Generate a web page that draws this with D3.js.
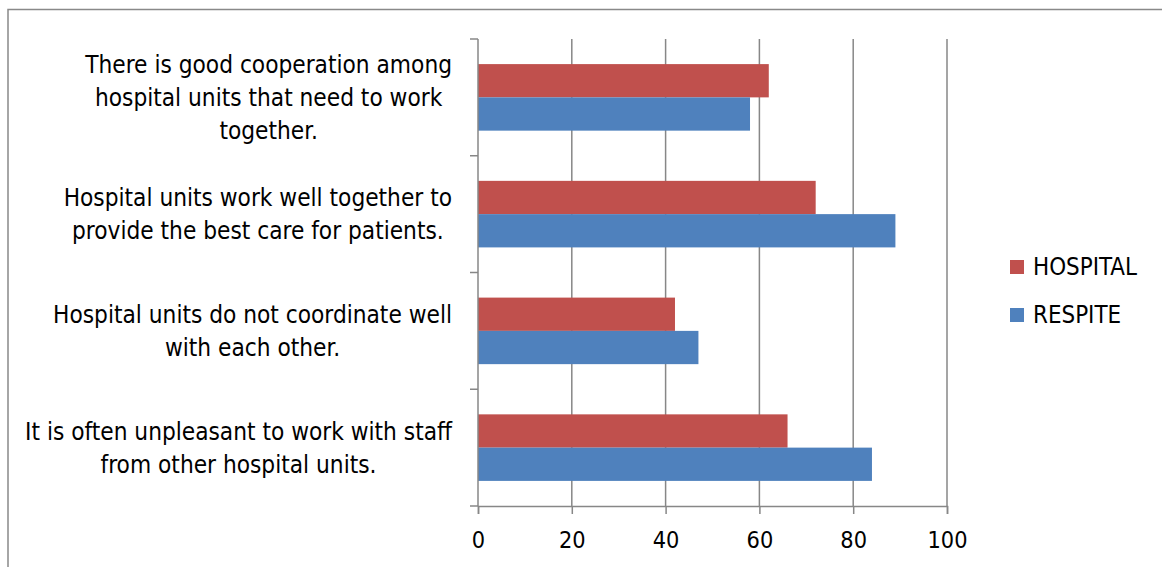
<!DOCTYPE html>
<html><head><meta charset="utf-8">
<script src="https://cdn.jsdelivr.net/npm/d3@7"></script>
<style>html,body{margin:0;padding:0;background:#fff;}</style>
</head><body>
<svg id="c" width="1162" height="567"></svg>
<script>
const categories = [
  ["There is good cooperation among", "hospital units that need to work", "together."],
  ["Hospital units work well together to", "provide the best care for patients."],
  ["Hospital units do not coordinate well", "with each other."],
  ["It is often unpleasant to work with staff", "from other hospital units."]
];
const seriesNames = ["HOSPITAL", "RESPITE"];
const hospital = [62, 72, 42, 66];
const respite = [58, 89, 47, 84];
const xTicks = [0, 20, 40, 60, 80, 100];
const colors = ["#C0504D", "#4F81BD"];

(function(){
const FONT = "'Liberation Sans Narrow', 'DejaVu Sans Condensed', sans-serif";
const svg = d3.select("#c");
const pL = 478, pR = 947, pT = 39, pB = 506;

function fit(str, target){
  const p = svg.append("text").attr("font-family",FONT).attr("font-size",20).text(str);
  const s = 20 * target / p.node().getComputedTextLength();
  p.remove();
  return Math.round(s*10)/10;
}
const FS = fit("It is often unpleasant to work with staff", 428);
const LFS = fit("HOSPITAL", 104);
const TFS = fit("100", 40);

// frame
svg.append("path").attr("d", `M8,570 L8,9.5 L1170,9.5`).attr("fill","none")
  .attr("stroke","#898989").attr("stroke-width",1.5);

const x = d3.scaleLinear().domain([0,100]).range([pL,pR]);
const idx = categories.map((d,i)=>i);
const y0 = d3.scaleBand().domain(idx).range([pT,pB]).paddingInner(0.43).paddingOuter(0.215);
const y1 = d3.scaleBand().domain([0,1]).range([0, y0.bandwidth()]);

// gridlines
svg.append("g").selectAll("line").data(xTicks.filter(t=>t>0)).join("line")
  .attr("x1",d=>x(d)).attr("x2",d=>x(d)).attr("y1",pT).attr("y2",pB)
  .attr("stroke","#878787").attr("stroke-width",1.5);

// bars
const series = [hospital, respite];
const g = svg.append("g");
series.forEach((vals,si)=>{
  g.selectAll(null).data(vals).join("rect")
    .attr("x",x(0)).attr("y",(d,i)=>y0(i)+y1(si))
    .attr("width",d=>x(d)-x(0)).attr("height",y1.bandwidth())
    .attr("fill",colors[si]);
});

// y axis
const step = (pB-pT)/categories.length;
const yt = d3.range(categories.length+1).map(i=>pT+i*step);
svg.append("line").attr("x1",pL).attr("x2",pL).attr("y1",pT).attr("y2",pB)
  .attr("stroke","#878787").attr("stroke-width",1.5);
svg.append("g").selectAll("line").data(yt).join("line")
  .attr("x1",470).attr("x2",pL).attr("y1",d=>d).attr("y2",d=>d)
  .attr("stroke","#878787").attr("stroke-width",1.5);

// x axis
const xa = svg.append("g").attr("transform",`translate(0,${pB})`)
  .call(d3.axisBottom(x).tickValues(xTicks).tickSize(8).tickPadding(0).tickFormat(d3.format("d")));
xa.select(".domain").attr("stroke","#878787").attr("stroke-width",1.5);
xa.selectAll(".tick line").attr("stroke","#878787").attr("stroke-width",1.5);
xa.selectAll(".tick text").attr("y",34).attr("dy","0.35em")
  .attr("font-family",FONT).attr("font-size",TFS).attr("fill","#000");

// category labels
const labelRight = 452, lh = 33;
categories.forEach((lines,i)=>{
  const cy = pT + (i+0.5)*step;
  const t = svg.append("text").attr("font-family",FONT).attr("font-size",FS)
    .attr("fill","#000").attr("text-anchor","middle");
  const n = lines.length;
  lines.forEach((ln,j)=>{
    t.append("tspan").attr("x",0).attr("y",cy + (j-(n-1)/2)*lh).attr("dy","0.35em").text(ln);
  });
  let w = 0;
  t.selectAll("tspan").each(function(){ w = Math.max(w, this.getComputedTextLength()); });
  t.selectAll("tspan").attr("x", labelRight - w/2);
});

// legend
const lg = svg.append("g");
seriesNames.forEach((s,i)=>{
  const ly = 267 + i*48;
  lg.append("rect").attr("x",1010).attr("y",ly-7).attr("width",14).attr("height",14).attr("fill",colors[i]);
  lg.append("text").attr("x",1033).attr("y",ly).attr("dy","0.35em")
    .attr("font-family",FONT).attr("font-size",LFS).attr("fill","#000").text(s);
});
})();
</script>
</body></html>
